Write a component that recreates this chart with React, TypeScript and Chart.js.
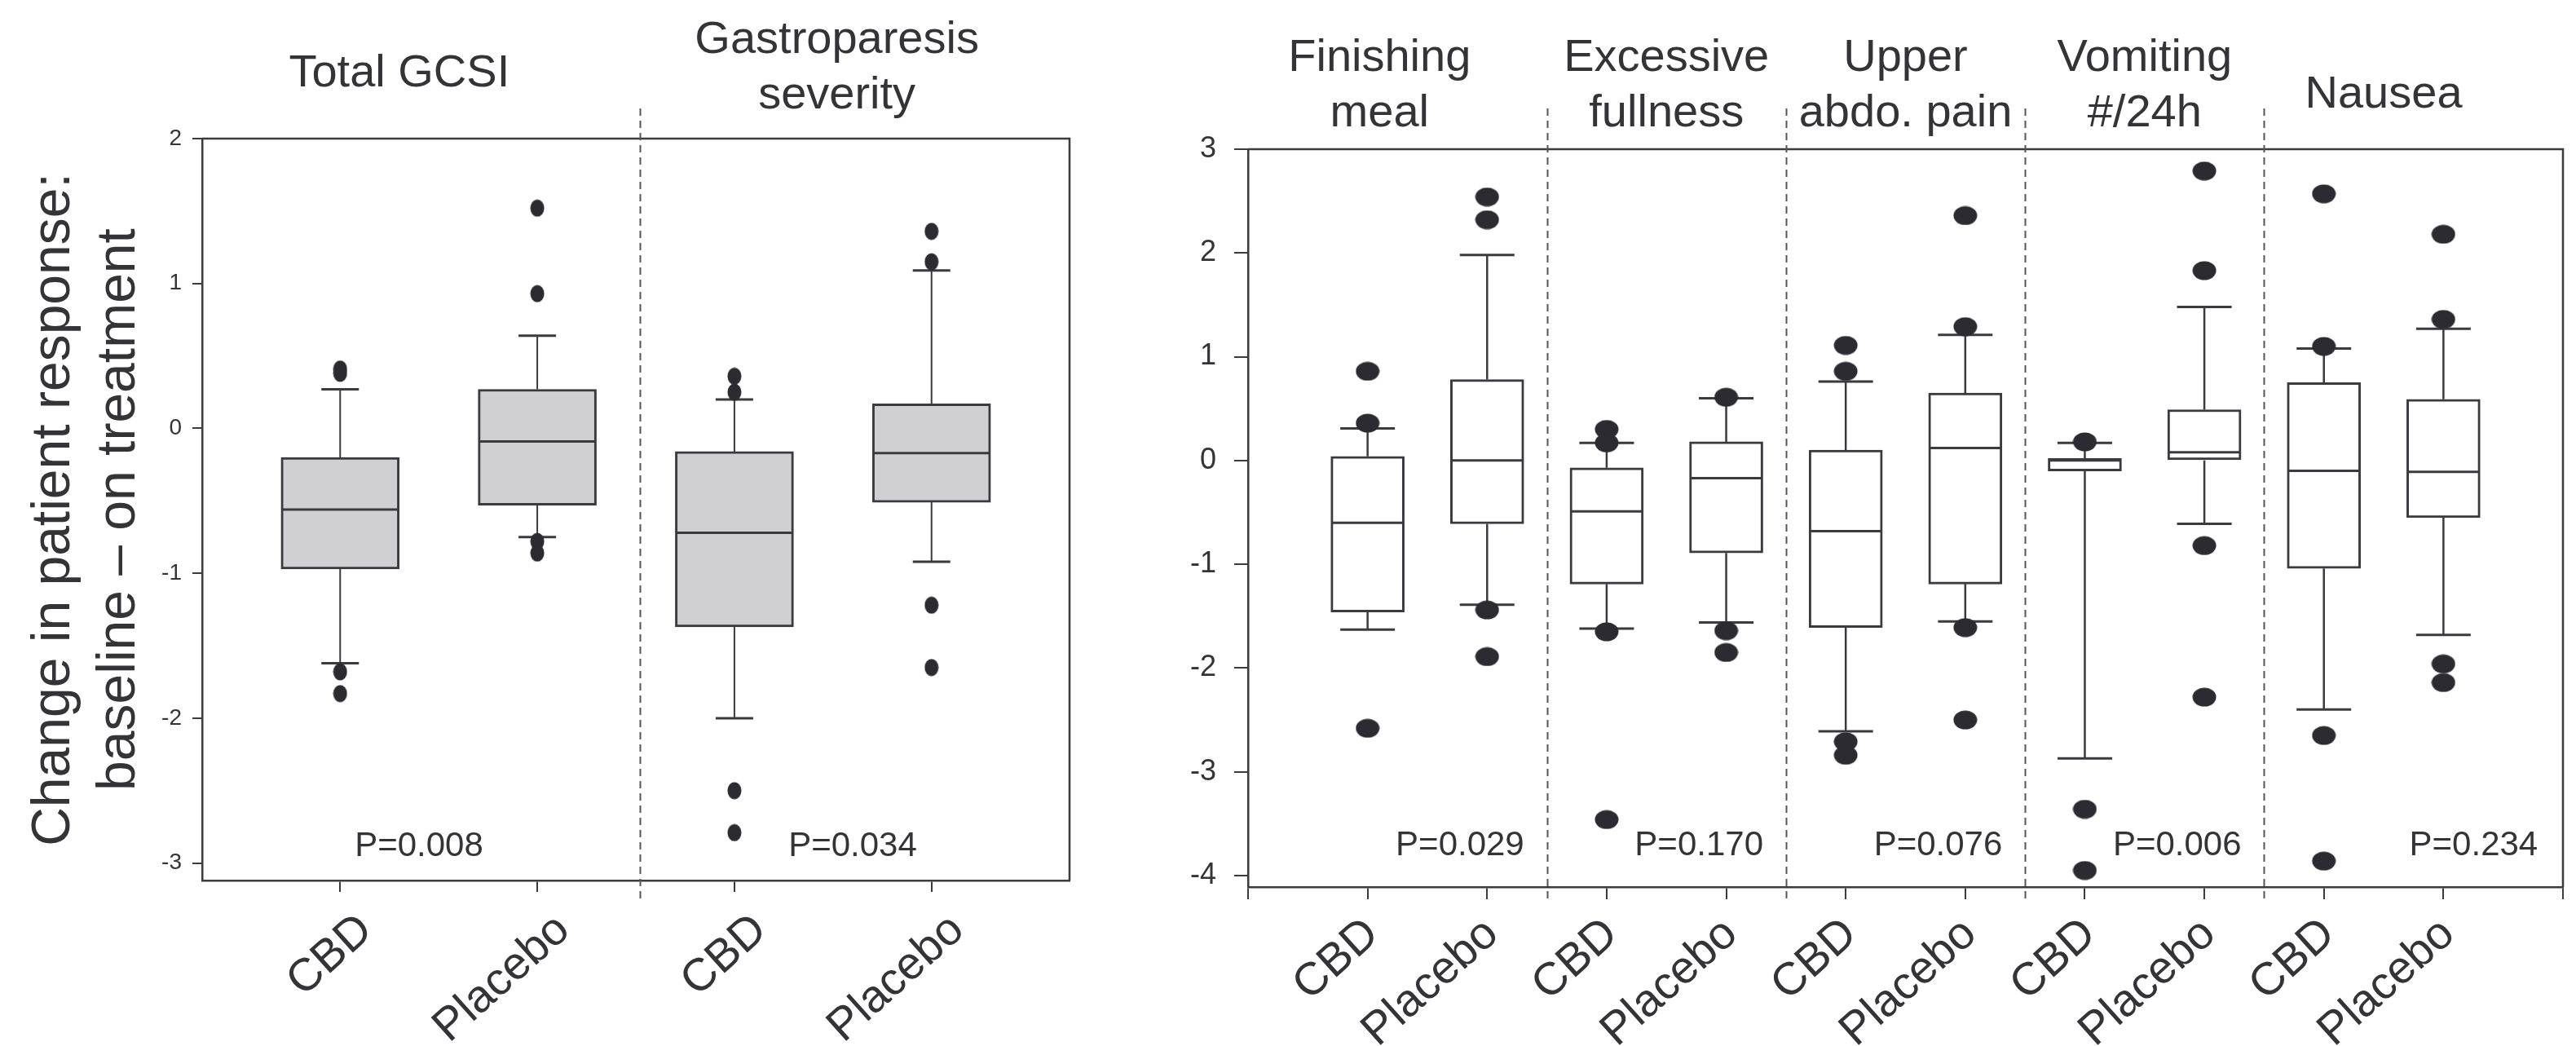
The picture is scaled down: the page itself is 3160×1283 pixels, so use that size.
import React, { useEffect, useRef } from 'react';
import { Chart, registerables } from 'chart.js';

Chart.register(...registerables);

const FONT = '"Liberation Sans", Arial, Helvetica, sans-serif';
const TEXT = '#333338';
const LINE = '#3a3a40';
const DOT = '#2b2b31';

// ---------- Left panel data ----------
const leftCategories = ['CBD', 'Placebo', 'CBD', 'Placebo'];
const leftHeaders = [['Total GCSI'], ['Gastroparesis', 'severity']];
const leftPValues = ['P=0.008', 'P=0.034'];
const leftQ1 = [-0.97, -0.53, -1.37, -0.51];
const leftMedian = [-0.56, -0.09, -0.72, -0.17];
const leftQ3 = [-0.2, 0.27, -0.16, 0.17];
const leftLow = [-1.62, -0.75, -2.0, -0.92];
const leftHigh = [0.27, 0.64, 0.2, 1.09];
const leftOutliers = [
  [0.41, 0.38, -1.68, -1.83],
  [1.52, 0.93, -0.78, -0.86],
  [0.36, 0.25, -2.5, -2.79],
  [1.36, 1.15, -1.22, -1.65],
];
const leftYTicks = [2, 1, 0, -1, -2, -3];
const leftYTitle = ['Change in patient response:', 'baseline \u2013 on treatment'];

// ---------- Right panel data ----------
const rightCategories = ['CBD', 'Placebo', 'CBD', 'Placebo', 'CBD', 'Placebo', 'CBD', 'Placebo', 'CBD', 'Placebo'];
const rightHeaders = [['Finishing', 'meal'], ['Excessive', 'fullness'], ['Upper', 'abdo. pain'], ['Vomiting', '#/24h'], ['Nausea']];
const rightPValues = ['P=0.029', 'P=0.170', 'P=0.076', 'P=0.006', 'P=0.234'];
const rightQ1 = [-1.46, -0.61, -1.19, -0.89, -1.61, -1.19, -0.1, 0.0, -1.04, -0.55];
const rightMedian = [-0.6, 0.0, -0.49, -0.17, -0.68, 0.12, 0.0, 0.08, -0.1, -0.11];
const rightQ3 = [0.04, 0.78, -0.07, 0.18, 0.1, 0.65, 0.02, 0.49, 0.75, 0.59];
const rightLow = [-1.63, -1.39, -1.62, -1.56, -2.61, -1.55, -2.87, -0.61, -2.4, -1.68];
const rightHigh = [0.31, 1.98, 0.17, 0.6, 0.76, 1.21, 0.17, 1.48, 1.08, 1.27];
const rightOutliers = [
  [0.86, 0.36, -2.58],
  [2.54, 2.32, -1.44, -1.89],
  [0.3, 0.17, -1.65, -3.46],
  [0.61, -1.64, -1.85],
  [1.11, 0.86, -2.71, -2.84],
  [2.36, 1.29, -1.61, -2.5],
  [0.18, -3.36, -3.95],
  [2.79, 1.83, -0.82, -2.28],
  [2.57, 1.1, -2.65, -3.86],
  [2.18, 1.36, -1.96, -2.14],
];
const rightYTicks = [3, 2, 1, 0, -1, -2, -3, -4];

type Panel = {
  categories: string[];
  q1: number[]; median: number[]; q3: number[]; low: number[]; high: number[];
  outliers: number[][];
  yTicks: number[];
  yMin: number; yMax: number;
  xMin: number; xMax: number;
  xTickValues: number[];
  headers: string[][];
  headerX: number[];
  headerBaseline: number[];
  pValues: string[];
  pX: number[];
  pY: number;
  pAlign: CanvasTextAlign;
  dividers: number[];
  boxFill: string;
  boxW: number; capW: number; whiskerW: number;
  dotW: number; dotH: number;
  yAxisWidth: number; xAxisHeight: number;
  padTop: number; padRight: number;
  yTickFont: number; yTickLen: number; yTickPad: number;
  xTickLen: number; xLabelOffset: number; xLabelPad: number;
  yTitle: string[] | null;
  width: number; left: number;
};

const leftPanel: Panel = {
  categories: leftCategories,
  q1: leftQ1, median: leftMedian, q3: leftQ3, low: leftLow, high: leftHigh,
  outliers: leftOutliers,
  yTicks: leftYTicks,
  yMin: -3.12, yMax: 2,
  xMin: -0.7, xMax: 3.7,
  xTickValues: [0, 1, 2, 3],
  headers: leftHeaders,
  headerX: [0.3, 2.52],
  headerBaseline: [106, 65],
  pValues: leftPValues,
  pX: [0.4, 2.6],
  pY: -2.95,
  pAlign: 'center',
  dividers: [1.52],
  boxFill: '#d0d0d4',
  boxW: 145, capW: 46, whiskerW: 2,
  dotW: 18, dotH: 22,
  yAxisWidth: 248, xAxisHeight: 203,
  padTop: 170, padRight: 58,
  yTickFont: 28, yTickLen: 12, yTickPad: 13,
  xTickLen: 14, xLabelOffset: 32, xLabelPad: 14,
  yTitle: leftYTitle,
  width: 1370, left: 0,
};

const rightPanel: Panel = {
  categories: rightCategories,
  q1: rightQ1, median: rightMedian, q3: rightQ3, low: rightLow, high: rightHigh,
  outliers: rightOutliers,
  yTicks: rightYTicks,
  yMin: -4.11, yMax: 3,
  xMin: -1, xMax: 10,
  xTickValues: [-1, 0, 1, 2, 3, 4, 5, 6, 7, 8, 9, 10],
  headers: rightHeaders,
  headerX: [0.1, 2.5, 4.5, 6.5, 8.5],
  headerBaseline: [87, 87, 87, 87, 132],
  pValues: rightPValues,
  pX: [1.31, 3.31, 5.31, 7.31, 9.79],
  pY: -3.8,
  pAlign: 'right',
  dividers: [1.5, 3.5, 5.5, 7.5],
  boxFill: '#ffffff',
  boxW: 90, capW: 67, whiskerW: 2.5,
  dotW: 30, dotH: 24,
  yAxisWidth: 151, xAxisHeight: 195,
  padTop: 183, padRight: 9,
  yTickFont: 36, yTickLen: 17, yTickPad: 22,
  xTickLen: 15, xLabelOffset: 6, xLabelPad: 10,
  yTitle: null,
  width: 1780, left: 1380,
};

function makeDot(w: number, h: number, color: string) {
  const c = document.createElement('canvas');
  c.width = w;
  c.height = h;
  const g = c.getContext('2d')!;
  g.fillStyle = color;
  g.beginPath();
  g.ellipse(w / 2, h / 2, w / 2 - 0.5, h / 2 - 0.5, 0, 0, Math.PI * 2);
  g.fill();
  return c;
}

function makeBoxPlugin(p: Panel) {
  return {
    id: 'boxExtras',
    beforeDatasetsDraw(chart: any) {
      const { ctx } = chart;
      const xs = chart.scales.x;
      const ys = chart.scales.y;
      ctx.save();
      ctx.strokeStyle = LINE;
      p.low.forEach((lo, i) => {
        const px = xs.getPixelForValue(i);
        ctx.lineWidth = p.whiskerW;
        ctx.beginPath();
        ctx.moveTo(px, ys.getPixelForValue(p.q3[i]));
        ctx.lineTo(px, ys.getPixelForValue(p.high[i]));
        ctx.moveTo(px, ys.getPixelForValue(p.q1[i]));
        ctx.lineTo(px, ys.getPixelForValue(lo));
        ctx.stroke();
        ctx.lineWidth = 3;
        ctx.beginPath();
        const yh = ys.getPixelForValue(p.high[i]);
        const yl = ys.getPixelForValue(lo);
        ctx.moveTo(px - p.capW / 2, yh);
        ctx.lineTo(px + p.capW / 2, yh);
        ctx.moveTo(px - p.capW / 2, yl);
        ctx.lineTo(px + p.capW / 2, yl);
        ctx.stroke();
      });
      ctx.restore();
    },
    afterDatasetDraw(chart: any, args: any) {
      if (args.index !== 0) return;
      const { ctx } = chart;
      const xs = chart.scales.x;
      const ys = chart.scales.y;
      ctx.save();
      ctx.strokeStyle = LINE;
      ctx.lineWidth = 3;
      p.median.forEach((m, i) => {
        const px = xs.getPixelForValue(i);
        const py = ys.getPixelForValue(m);
        ctx.beginPath();
        ctx.moveTo(px - p.boxW / 2 + 1, py);
        ctx.lineTo(px + p.boxW / 2 - 1, py);
        ctx.stroke();
      });
      ctx.restore();
    },
    afterDraw(chart: any) {
      const { ctx, chartArea } = chart;
      const xs = chart.scales.x;
      const ys = chart.scales.y;
      ctx.save();
      // frame: top and right
      ctx.strokeStyle = LINE;
      ctx.lineWidth = 2.5;
      ctx.beginPath();
      ctx.moveTo(chartArea.left, chartArea.top);
      ctx.lineTo(chartArea.right, chartArea.top);
      ctx.lineTo(chartArea.right, chartArea.bottom);
      ctx.stroke();
      // dividers
      ctx.strokeStyle = '#55555a';
      ctx.lineWidth = 2;
      ctx.setLineDash([9, 6]);
      p.dividers.forEach((d) => {
        const px = Math.round(xs.getPixelForValue(d)) + 0.5;
        ctx.beginPath();
        ctx.moveTo(px, 133);
        ctx.lineTo(px, 1107);
        ctx.stroke();
      });
      ctx.setLineDash([]);
      // headers
      ctx.fillStyle = TEXT;
      ctx.font = `56px ${FONT}`;
      ctx.textAlign = 'center';
      ctx.textBaseline = 'alphabetic';
      p.headers.forEach((lines, i) => {
        const px = xs.getPixelForValue(p.headerX[i]);
        lines.forEach((ln, j) => {
          ctx.fillText(ln, px, p.headerBaseline[i] + j * 68);
        });
      });
      // p values
      ctx.font = `42px ${FONT}`;
      ctx.textAlign = p.pAlign;
      const py = ys.getPixelForValue(p.pY);
      p.pValues.forEach((t, i) => {
        ctx.fillText(t, xs.getPixelForValue(p.pX[i]), py);
      });
      ctx.restore();
    },
  };
}

function BoxPanel({ p }: { p: Panel }) {
  const ref = useRef<HTMLCanvasElement>(null);
  useEffect(() => {
    const canvas = ref.current!;
    const dot = makeDot(p.dotW, p.dotH, DOT);
    const outlierPts = p.outliers.flatMap((arr, i) => arr.map((v) => ({ x: i, y: v })));
    const boxData = p.q1.map((q, i) => ({ x: i, y: [q, p.q3[i]] }));
    const chart = new Chart(canvas, {
      type: 'bar',
      data: {
        datasets: [
          {
            type: 'bar',
            data: boxData as any,
            backgroundColor: p.boxFill,
            borderColor: LINE,
            borderWidth: 3,
            borderSkipped: false,
            barThickness: p.boxW,
            order: 2,
          } as any,
          {
            type: 'scatter',
            data: outlierPts,
            pointStyle: dot,
            pointRadius: p.dotW / 2,
            pointHoverRadius: p.dotW / 2,
            order: 1,
          } as any,
        ],
      },
      options: {
        responsive: false,
        animation: false,
        devicePixelRatio: 1,
        events: [],
        layout: { padding: { top: p.padTop, right: p.padRight, left: 0, bottom: 0 } },
        plugins: { legend: { display: false }, tooltip: { enabled: false } },
        scales: {
          x: {
            type: 'linear',
            min: p.xMin,
            max: p.xMax,
            offset: false,
            afterBuildTicks: (s: any) => {
              s.ticks = p.xTickValues.map((v) => ({ value: v }));
            },
            afterFit: (s: any) => {
              s.height = p.xAxisHeight;
              s.paddingLeft = 0;
              s.paddingRight = 0;
            },
            ticks: {
              autoSkip: false,
              minRotation: 42,
              maxRotation: 42,
              padding: p.xLabelPad,
              labelOffset: p.xLabelOffset,
              color: TEXT,
              font: { family: FONT, size: 56 },
              callback: (v: any) => {
                const n = Number(v);
                return Number.isInteger(n) && n >= 0 && n < p.categories.length ? p.categories[n] : '';
              },
            },
            grid: {
              offset: false,
              drawOnChartArea: false,
              drawTicks: true,
              tickLength: p.xTickLen,
              color: LINE,
              lineWidth: 2,
            },
            border: { display: true, color: LINE, width: 2.5 },
          },
          y: {
            type: 'linear',
            min: p.yMin,
            max: p.yMax,
            afterBuildTicks: (s: any) => {
              s.ticks = p.yTicks.map((v) => ({ value: v }));
            },
            afterFit: (s: any) => {
              s.width = p.yAxisWidth;
              s.paddingTop = 0;
              s.paddingBottom = 0;
            },
            ticks: {
              padding: p.yTickPad,
              color: TEXT,
              font: { family: FONT, size: p.yTickFont },
              callback: (v: any) => String(v),
            },
            grid: {
              drawOnChartArea: false,
              drawTicks: true,
              tickLength: p.yTickLen,
              color: LINE,
              lineWidth: 2,
            },
            border: { display: true, color: LINE, width: 2.5 },
            title: p.yTitle
              ? {
                  display: true,
                  text: p.yTitle,
                  color: TEXT,
                  font: { family: FONT, size: 66, lineHeight: 1.21 },
                  padding: { top: 27, bottom: 0 },
                }
              : { display: false },
          },
        },
      } as any,
      plugins: [makeBoxPlugin(p) as any],
    });
    return () => chart.destroy();
  }, []);
  return (
    <canvas
      ref={ref}
      width={p.width}
      height={1283}
      style={{ position: 'absolute', left: p.left, top: 0, width: p.width, height: 1283 }}
    />
  );
}

export default function App() {
  return (
    <div style={{ position: 'absolute', left: 0, top: 0, width: 3160, height: 1283, background: '#ffffff', overflow: 'hidden' }}>
      <BoxPanel p={leftPanel} />
      <BoxPanel p={rightPanel} />
    </div>
  );
}
